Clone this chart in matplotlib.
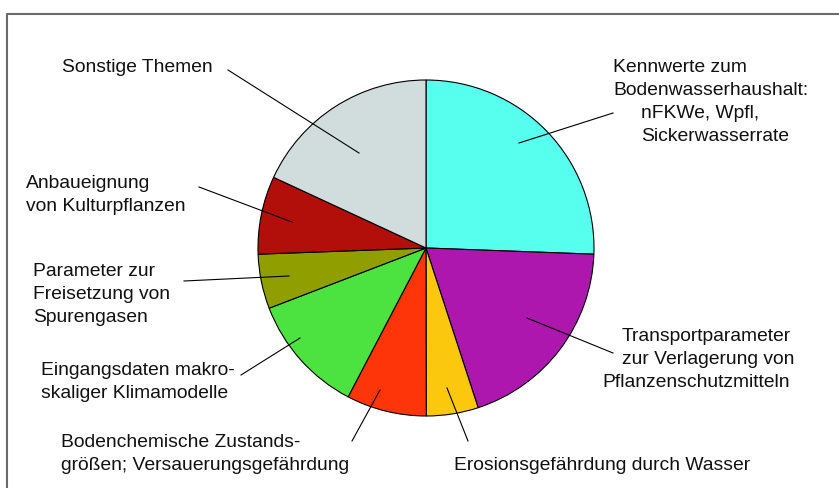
import matplotlib
matplotlib.use("Agg")
import matplotlib.pyplot as plt
from matplotlib.lines import Line2D

plt.rcParams['font.family'] = ['Liberation Sans', 'DejaVu Sans']

# Data (shares in %, clockwise from 12 o'clock)
categories = [
    "Kennwerte zum Bodenwasserhaushalt: nFKWe, Wpfl, Sickerwasserrate",
    "Transportparameter zur Verlagerung von Pflanzenschutzmitteln",
    "Erosionsgefährdung durch Wasser",
    "Bodenchemische Zustandsgrößen; Versauerungsgefährdung",
    "Eingangsdaten makroskaliger Klimamodelle",
    "Parameter zur Freisetzung von Spurengasen",
    "Anbaueignung von Kulturpflanzen",
    "Sonstige Themen",
]
values = [25.6, 19.4, 5.0, 7.7, 11.5, 5.25, 7.5, 18.1]
colors = ["#56FFEE", "#AD17AD", "#FCC80D", "#FF350A", "#4CE340",
          "#909E00", "#B20E0A", "#D1DCDC"]

# Label text blocks: (lines, x_px, first baseline_px, indent per line)
label_lines = [
    [("Kennwerte zum", 613), ("Bodenwasserhaushalt:", 613), ("nFKWe, Wpfl,", 641), ("Sickerwasserrate", 641)],
    [("Transportparameter", 622), ("zur Verlagerung von", 622), ("Pflanzenschutzmitteln", 602)],
    [("Erosionsgefährdung durch Wasser", 454)],
    [("Bodenchemische Zustands-", 61), ("größen; Versauerungsgefährdung", 61)],
    [("Eingangsdaten makro-", 41), ("skaliger Klimamodelle", 41)],
    [("Parameter zur", 33), ("Freisetzung von", 33), ("Spurengasen", 33)],
    [("Anbaueignung", 26), ("von Kulturpflanzen", 26)],
    [("Sonstige Themen", 62)],
]
label_baselines = [71.5, 341, 470, 447, 375, 276, 188, 72.5]
# leader lines: (outer_px, inner_px)
leaders = [
    ((613, 113), (519, 143)),
    ((613, 353), (527, 318)),
    ((468, 441), (447, 388)),
    ((352, 441), (380, 390)),
    ((241, 375), (300, 338)),
    ((184, 281), (289, 276)),
    ((199, 187), (292, 222)),
    ((228, 70), (359, 153)),
]

W, H = 839, 488
fig = plt.figure(figsize=(W / 100, H / 100), dpi=100)
fig.patch.set_facecolor("white")

def fx(x):
    return x / W

def fy(y):
    return 1 - y / H

cx, cy, r = 426, 248, 168
ax = fig.add_axes([fx(cx - r), fy(cy + r), 2 * r / W, 2 * r / H])
ax.pie(values, colors=colors, startangle=90, counterclock=False,
       wedgeprops=dict(edgecolor="black", linewidth=0.8))
ax.set_xlim(-1, 1)
ax.set_ylim(-1, 1)
ax.set_aspect("equal")
ax.axis("off")

# frame
fig.add_artist(Line2D([fx(7), fx(7), fx(W + 5)], [fy(H + 5), fy(13.5), fy(13.5)],
                      transform=fig.transFigure, color="#6a6a6a", lw=1.5))

fs = 13.9
lh = 23.2
for lines, base in zip(label_lines, label_baselines):
    for i, (t, x) in enumerate(lines):
        fig.text(fx(x), fy(base + i * lh), t, fontsize=fs, va="baseline",
                 ha="left", color="#111111")

for (o, inn) in leaders:
    fig.add_artist(Line2D([fx(o[0]), fx(inn[0])], [fy(o[1]), fy(inn[1])],
                          transform=fig.transFigure, color="black", lw=0.8))

fig.savefig("out.png", dpi=100)
